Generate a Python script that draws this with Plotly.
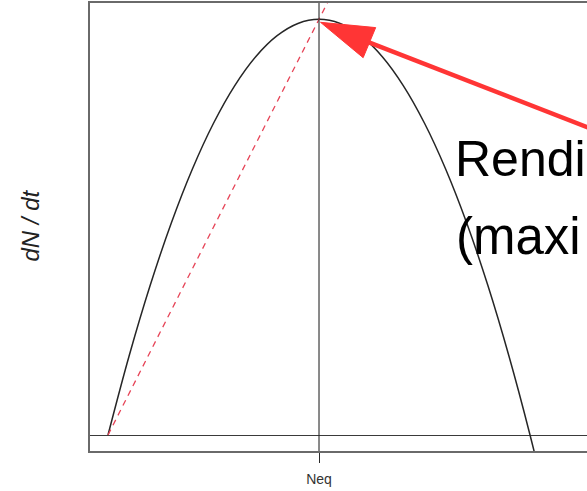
import plotly.graph_objects as go

# ---- data ----
N_vals = [0, 5, 10, 15, 20, 25, 30, 35, 40, 45, 50, 55, 60, 65, 70, 75, 80, 85, 90, 95, 100, 105, 110]
dNdt_vals = [0, 4.75, 9, 12.75, 16, 18.75, 21, 22.75, 24, 24.75, 25, 24.75, 24, 22.75, 21,
             18.75, 16, 12.75, 9, 4.75, 0, -5.25, -11]
tangent_N = [0, 56]
tangent_y = [0, 28]
Neq = 50
peak = 25
tick_vals = [Neq]
tick_text = ["Neq"]
y_label = "<i>dN / dt</i>"
text_line1 = "Rendi"
text_line2 = "(maxi"

# ---- layout geometry ----
W, H = 587, 491
ML, MR, MT, MB = 90, 0, 3, 40
PW, PH = W - ML - MR, H - MT - MB
XR = [-4.265, 113.5]
YR = [-0.962, 25.98]
FONT = "Liberation Sans, Arial, sans-serif"


def pxx(px):
    return (px - ML) / PW


def pxy(py):
    return (H - MB - py) / PH


def data_to_px(x, y):
    px = ML + (x - XR[0]) / (XR[1] - XR[0]) * PW
    py = MT + (YR[1] - y) / (YR[1] - YR[0]) * PH
    return px, py


fig = go.Figure()
fig.add_trace(go.Scatter(x=N_vals, y=dNdt_vals, mode="lines",
                         line=dict(color="#262626", width=1.5, shape="spline", smoothing=1.0),
                         hoverinfo="skip", showlegend=False))
fig.add_trace(go.Scatter(x=tangent_N, y=tangent_y, mode="lines",
                         line=dict(color="#e64457", width=1.3, dash="6px,5px"),
                         hoverinfo="skip", showlegend=False))

shapes = []
# vertical line at Neq
shapes.append(dict(type="line", xref="x", yref="paper", x0=Neq, x1=Neq, y0=0, y1=1,
                   line=dict(color="#2a2a2a", width=1.1), layer="above"))

# red arrow (annotation drawn with shapes)
tipx, tipy = data_to_px(Neq, peak)
tipx += 1.5
tipy += 3
ux, uy = 0.923, 0.384
nx, ny = -uy, ux
hl, hw = 53, 16.3
bx, by = tipx + hl * ux, tipy + hl * uy
c1 = (bx + hw * nx, by + hw * ny)
c2 = (bx - hw * nx, by - hw * ny)
tail = (600, by + 0.388 * (600 - bx))
shapes.append(dict(type="line", xref="paper", yref="paper",
                   x0=pxx(bx - 4 * ux), y0=pxy(by - 4 * uy), x1=pxx(tail[0]), y1=pxy(tail[1]),
                   line=dict(color="#ff3535", width=4.5), layer="above"))
path = "M {:.4f},{:.4f} L {:.4f},{:.4f} L {:.4f},{:.4f} Z".format(
    pxx(tipx), pxy(tipy), pxx(c1[0]), pxy(c1[1]), pxx(c2[0]), pxy(c2[1]))
shapes.append(dict(type="path", xref="paper", yref="paper", path=path,
                   fillcolor="#ff3535", line=dict(color="#ff3535", width=1), layer="above"))

annotations = [
    dict(text=y_label, xref="paper", yref="paper", x=pxx(30), y=pxy(225.5), textangle=-90,
         showarrow=False, xanchor="center", yanchor="middle",
         font=dict(family=FONT, size=24, color="#222")),
    dict(text=text_line1, xref="paper", yref="paper", x=pxx(453), y=pxy(189),
         showarrow=False, xanchor="left", yanchor="bottom",
         font=dict(family=FONT, size=50, color="#000")),
    dict(text=text_line2, xref="paper", yref="paper", x=pxx(454), y=pxy(267),
         showarrow=False, xanchor="left", yanchor="bottom",
         font=dict(family=FONT, size=51, color="#000")),
]

fig.update_layout(
    width=W, height=H, margin=dict(l=ML, r=MR, t=MT, b=MB, pad=0),
    paper_bgcolor="white", plot_bgcolor="white",
    shapes=shapes, annotations=annotations,
    xaxis=dict(range=XR, showgrid=False, zeroline=False, showline=True, mirror=True,
               linecolor="#6a6a6a", linewidth=1.5, tickvals=tick_vals, ticktext=tick_text,
               ticks="outside", ticklen=10, tickcolor="#2a2a2a", tickwidth=1.1,
               ticklabelstandoff=4,
               tickfont=dict(family=FONT, size=14, color="#333")),
    yaxis=dict(range=YR, showgrid=False, zeroline=True, zerolinecolor="#3a3a3a", zerolinewidth=1.2,
               showline=True, mirror=False, linecolor="#6a6a6a", linewidth=1.5,
               showticklabels=False, ticks=""),
)

fig.write_html("out.html", config={"displayModeBar": False},
               post_script="document.body.style.margin='0';document.body.style.overflow='hidden';")
